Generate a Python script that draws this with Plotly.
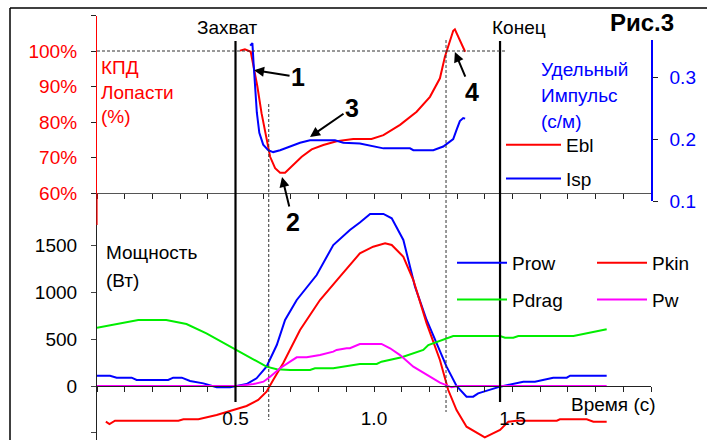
import plotly.graph_objects as go

# ---------------- data ----------------
ebl_t = [0.516,0.534,0.555,0.564,0.579,0.594,0.613,0.625,0.643,0.661,0.679,0.703,0.739,0.775,0.817,0.865,0.925,0.991,1.034,1.094,1.154,1.202,1.238,1.256,1.274,1.286,1.292,1.310,1.329]
ebl = [100.1,100.5,99.8,96.5,90,82.5,75,70.2,67,65.7,65.7,67.4,70.2,72.3,73.5,74.6,75.2,75.2,76.3,79.2,82.9,87.1,92.3,98.4,103.1,105.7,106.1,103.1,99.8]

isp_t = [0.553,0.561,0.565,0.570,0.577,0.586,0.600,0.618,0.636,0.661,0.697,0.733,0.769,0.805,0.859,0.889,0.949,1.034,1.130,1.142,1.214,1.250,1.286,1.298,1.310,1.322,1.329]
isp = [0.351,0.355,0.324,0.286,0.243,0.210,0.191,0.182,0.179,0.182,0.188,0.194,0.198,0.198,0.198,0.194,0.193,0.185,0.185,0.182,0.182,0.188,0.200,0.215,0.229,0.234,0.233]

prow_t = [0,0.047,0.071,0.125,0.143,0.257,0.275,0.306,0.336,0.384,0.432,0.48,0.504,0.54,0.576,0.612,0.649,0.679,0.721,0.793,0.853,0.913,0.949,0.986,1.034,1.064,1.106,1.148,1.19,1.244,1.262,1.298,1.334,1.358,1.376,1.455,1.503,1.539,1.581,1.647,1.696,1.708,1.84]
prow = [110,110,89,89,64,64,89,89,53,28,-14,-14,0,21,82,206,437,704,917,1183,1503,1663,1743,1834,1834,1788,1557,1059,704,330,206,0,-114,-114,-78,-7,21,46,46,89,89,110,110]

pkin_t = [0.032,0.045,0.065,0.294,0.312,0.366,0.432,0.492,0.54,0.582,0.612,0.636,0.672,0.733,0.805,0.877,0.949,0.997,1.04,1.064,1.106,1.142,1.19,1.238,1.268,1.298,1.334,1.4,1.455,1.485,1.515,1.66,1.671,1.768,1.792,1.84]
pkin = [-380,-405,-370,-370,-355,-355,-309,-256,-213,-149,-61,64,242,597,917,1165,1414,1485,1521,1503,1378,1130,668,277,-43,-256,-434,-547,-469,-380,-370,-370,-355,-355,-380,-380]

pdrag_t = [0,0.071,0.149,0.25,0.323,0.395,0.492,0.564,0.612,0.649,0.697,0.769,0.787,0.853,0.889,0.949,1.01,1.027,1.1,1.178,1.196,1.238,1.286,1.455,1.473,1.503,1.521,1.72,1.84]
pdrag = [622,661,704,704,661,562,402,277,206,178,171,171,189,189,206,235,235,259,306,384,437,483,533,533,515,515,533,533,604]

pw_t = [0,0.51,0.565,0.601,0.625,0.661,0.697,0.721,0.757,0.805,0.853,0.865,0.901,0.913,0.949,1.027,1.058,1.094,1.142,1.19,1.238,1.28,1.304,1.84]
pw = [0,0,21,46,99,189,259,306,306,330,366,384,402,402,448,448,402,330,206,117,35,-14,0,0]

phase_times = [0.5, 1.455]          # Захват, Конец
phase_labels = ["Захват", "Конец"]
dashed_times = [0.62, 1.26]
time_ticks = [round(0.1 * i, 1) for i in range(21)]
time_labels = {0.5: "0.5", 1.0: "1.0", 1.5: "1.5"}
ebl_ticks = [60, 70, 80, 90, 100, 110]
isp_ticks = [0.1, 0.2, 0.3]
power_ticks = [-500, 0, 500, 1000, 1500]

# arrows: (time, Ebl value of head, text, dx, dy)
arrows = [(0.567, 94.6, "1", 44, 7), (0.668, 64.5, "2", 11, 45),
          (0.769, 75.8, "3", 42, -29), (1.292, 99.7, "4", 17, 40)]

# --------------- layout helpers ---------------
W, H = 707, 440
def PX(p): return p / W
def PY(p): return 1 - p / H

FONT = "Arial, Liberation Sans, sans-serif"
RED, BLUE, GREEN, MAG = "#ff0000", "#0000ff", "#00ee00", "#ff00ff"

fig = go.Figure()
fig.add_trace(go.Scatter(x=ebl_t, y=ebl, mode="lines", name="Ebl", line=dict(color=RED, width=2),
                         xaxis="x2", yaxis="y2", legend="legend", legendgroup="a"))
fig.add_trace(go.Scatter(x=isp_t, y=isp, mode="lines", name="Isp", line=dict(color=BLUE, width=2),
                         xaxis="x2", yaxis="y3", legend="legend", legendgroup="b"))
fig.add_trace(go.Scatter(x=prow_t, y=prow, mode="lines", name="Prow", line=dict(color=BLUE, width=2),
                         legend="legend2", legendgroup="c"))
fig.add_trace(go.Scatter(x=pkin_t, y=pkin, mode="lines", name="Pkin", line=dict(color=RED, width=2),
                         legend="legend3", legendgroup="e"))
fig.add_trace(go.Scatter(x=pdrag_t, y=pdrag, mode="lines", name="Pdrag", line=dict(color=GREEN, width=2),
                         legend="legend2", legendgroup="d"))
fig.add_trace(go.Scatter(x=pw_t, y=pw, mode="lines", name="Pw", line=dict(color=MAG, width=2),
                         legend="legend3", legendgroup="f"))

xd = [PX(97), PX(651)]
tick_text = [time_labels.get(v, "") for v in time_ticks]

axis_font = dict(family=FONT, size=19, color="black")
leg_font = dict(family=FONT, size=19, color="black")

fig.update_layout(
    width=W, height=H, margin=dict(l=0, r=0, t=0, b=0, autoexpand=False),
    paper_bgcolor="white", plot_bgcolor="rgba(0,0,0,0)",
    xaxis=dict(domain=xd, range=[0, 2], anchor="free", position=PY(386), automargin=False,
               showline=True, linecolor="#222", linewidth=1.2, showgrid=False, zeroline=False,
               ticks="outside", ticklen=5, tickcolor="#222", tickvals=time_ticks, ticktext=tick_text,
               tickfont=axis_font, ticklabelstandoff=10),
    yaxis=dict(domain=[0, PY(193)], range=[(386 - 440) / 0.0938, (386 - 193) / 0.0938], anchor="x",
               automargin=False,
               showline=True, linecolor="#222", linewidth=1.2, showgrid=False, zeroline=False,
               ticks="outside", ticklen=5, tickvals=power_ticks, tickfont=axis_font, ticklabelstandoff=10),
    xaxis2=dict(domain=xd, range=[0, 2], anchor="y2", matches="x", automargin=False,
                showline=True, linecolor="#555", linewidth=1.2, showgrid=False, zeroline=False,
                ticks="outside", ticklen=5, tickcolor="#222", tickvals=time_ticks, showticklabels=False),
    yaxis2=dict(domain=[PY(193), PY(15.5)], range=[60, 110], anchor="x2", automargin=False,
                showline=True, linecolor=RED, linewidth=1.2, showgrid=False, zeroline=False,
                ticks="outside", ticklen=5, tickcolor="#222", tickvals=ebl_ticks,
                ticktext=[f"{v}%" if v <= 100 else "" for v in ebl_ticks],
                tickfont=dict(family=FONT, size=19, color=RED), ticklabelstandoff=10),
    yaxis3=dict(domain=[PY(201), PY(40)], range=[0.1, 0.36], anchor="x2", side="right", automargin=False,
                showline=True, linecolor=BLUE, linewidth=1.5, showgrid=False, zeroline=False,
                ticks="outside", ticklen=5, tickcolor="#222", tickvals=isp_ticks, tickformat=".1f",
                tickfont=dict(family=FONT, size=19, color=BLUE), ticklabelstandoff=8),
    legend=dict(x=PX(501), y=PY(126), xanchor="left", yanchor="top", font=leg_font,
                bgcolor="rgba(0,0,0,0)", itemwidth=55, tracegroupgap=6, traceorder="grouped"),
    legend2=dict(x=PX(452), y=PY(244), xanchor="left", yanchor="top", font=leg_font,
                 bgcolor="rgba(0,0,0,0)", itemwidth=50, tracegroupgap=9, traceorder="grouped"),
    legend3=dict(x=PX(592), y=PY(244), xanchor="left", yanchor="top", font=leg_font,
                 bgcolor="rgba(0,0,0,0)", itemwidth=50, tracegroupgap=9, traceorder="grouped"),
)

shapes = []
# frame
shapes.append(dict(type="line", xref="paper", yref="paper", x0=PX(10), x1=1.0, y0=PY(8), y1=PY(8),
                   line=dict(color="black", width=1.5)))
shapes.append(dict(type="line", xref="paper", yref="paper", x0=PX(10), x1=PX(10), y0=PY(8), y1=0,
                   line=dict(color="black", width=1.5)))
# red axis extension below 60%
shapes.append(dict(type="line", xref="paper", yref="paper", x0=PX(97), x1=PX(97), y0=PY(193), y1=PY(225),
                   line=dict(color=RED, width=1.2)))
# phase lines
for t in phase_times:
    shapes.append(dict(type="line", xref="x", yref="paper", x0=t, x1=t, y0=PY(41), y1=PY(402),
                       line=dict(color="black", width=2.2)))
# dashed guides
shapes.append(dict(type="line", xref="x", yref="paper", x0=dashed_times[0], x1=dashed_times[0],
                   y0=PY(104), y1=PY(420), line=dict(color="#333", width=1, dash="3px,2px")))
shapes.append(dict(type="line", xref="x", yref="paper", x0=dashed_times[1], x1=dashed_times[1],
                   y0=PY(40), y1=PY(412), line=dict(color="#333", width=1, dash="3px,2px")))
shapes.append(dict(type="line", xref="x2", yref="y2", x0=0, x1=1.48, y0=100, y1=100,
                   line=dict(color="#333", width=1, dash="3px,2px")))
fig.update_layout(shapes=shapes)

ann = []
def text(x, y, s, color="black", size=19, xanchor="left", bold=False):
    ann.append(dict(xref="paper", yref="paper", x=PX(x), y=PY(y), text=(f"<b>{s}</b>" if bold else s),
                    showarrow=False, xanchor=xanchor, yanchor="middle",
                    font=dict(family=FONT, size=size, color=color)))

text(227, 27, phase_labels[0], xanchor="center")
text(519, 27, phase_labels[1], xanchor="center")
text(642, 23, "Рис.3", size=24, xanchor="center", bold=True)
text(99, 67, "КПД", color=RED)
text(99, 92, "Лопасти", color=RED)
text(99, 116, "(%)", color=RED)
text(539, 70, "Удельный", color=BLUE)
text(539, 96, "Импульс", color=BLUE)
text(539, 121, "(с/м)", color=BLUE)
text(104, 253, "Мощность")
text(104, 280, "(Вт)")
text(658, 404, "Время (с)", xanchor="right")

for (t, v, s, dx, dy) in arrows:
    ann.append(dict(xref="x2", yref="y2", x=t, y=v, ax=dx, ay=dy, text=f"<b>{s}</b>",
                    showarrow=True, arrowhead=2, arrowsize=1, arrowwidth=2, arrowcolor="black",
                    font=dict(family=FONT, size=25, color="black"), standoff=0, startstandoff=0))
fig.update_layout(annotations=ann)

fig.write_html("out.html", config={"displayModeBar": False},
               post_script="document.body.style.margin='0';")
